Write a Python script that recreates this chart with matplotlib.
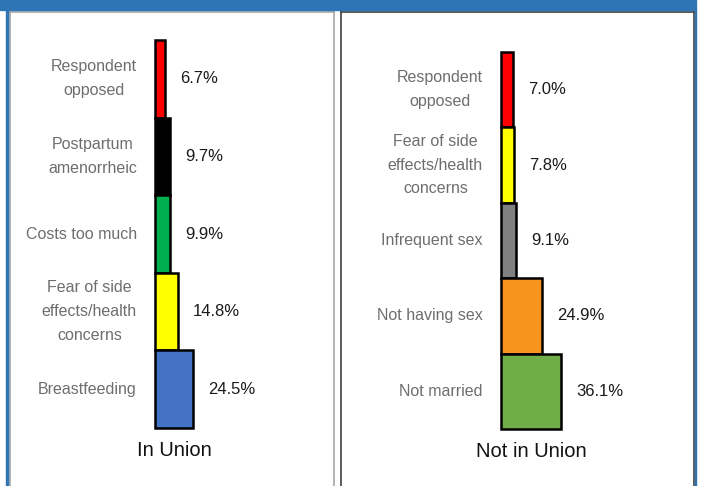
import matplotlib
matplotlib.use("Agg")
import matplotlib.pyplot as plt
from matplotlib.patches import Rectangle

plt.rcParams['font.family'] = ['Liberation Sans', 'DejaVu Sans']

# data, top segment first
union_labels = ["Respondent\nopposed", "Postpartum\namenorrheic", "Costs too much",
                "Fear of side\neffects/health\nconcerns", "Breastfeeding"]
union_vals = [6.7, 9.7, 9.9, 14.8, 24.5]
union_cols = ["#FF0000", "#000000", "#00B050", "#FFFF00", "#4472C4"]

notunion_labels = ["Respondent\nopposed", "Fear of side\neffects/health\nconcerns",
                   "Infrequent sex", "Not having sex", "Not married"]
notunion_vals = [7.0, 7.8, 9.1, 24.9, 36.1]
notunion_cols = ["#FF0000", "#FFFF00", "#808080", "#F7941D", "#70AD47"]

W, H = 701, 486
fig = plt.figure(figsize=(W / 100, H / 100), dpi=100)


def px_axes(x0, x1, y0, y1):
    # axes box given in pixels from top-left
    return fig.add_axes([x0 / W, 1 - y1 / H, (x1 - x0) / W, (y1 - y0) / H])


def panel(ax, labels, vals, cols, title, xlim, ylim, edge):
    y = list(range(len(vals)))
    ax.barh(y, vals, height=1.0, color=cols, edgecolor="black", linewidth=1.8)
    ax.set_xlim(*xlim)
    ax.set_ylim(*ylim)
    for i, (lab, v) in enumerate(zip(labels, vals)):
        ax.annotate(lab, (0, i), xytext=(-13, 0), textcoords="offset points",
                    ha="right", va="center", multialignment="center",
                    fontsize=11.5, color="#6E6E6E", linespacing=1.72)
        ax.annotate(f"{v:.1f}%", (v, i), xytext=(11, 0), textcoords="offset points",
                    ha="left", va="center", fontsize=12, color="#1A1A1A")
    ax.annotate(title, (max(vals) / 2, len(vals) - 0.5), xytext=(0, -16),
                textcoords="offset points", ha="center", va="center",
                fontsize=14.5, color="#111111")
    ax.set_xticks([])
    ax.set_yticks([])
    for s in ["top", "left", "right"]:
        ax.spines[s].set_color(edge)
        ax.spines[s].set_linewidth(1.2)
    ax.spines["bottom"].set_visible(False)


ax1 = px_axes(10, 334, 12, 516)
panel(ax1, union_labels, union_vals, union_cols, "In Union",
      (-93.5, 115.5), (5.634, -0.861), "#A6A6A6")

ax2 = px_axes(341, 694, 12, 516)
panel(ax2, notunion_labels, notunion_vals, notunion_cols, "Not in Union",
      (-96.4, 116.3), (5.654, -1.03), "#404040")

# blue frame of the slide
blue = "#2E75B6"
fig.patches.append(Rectangle((0, 1 - 10 / H), 695 / W, 10 / H, transform=fig.transFigure,
                             color=blue, zorder=0))
fig.patches.append(Rectangle((5.5 / W, 0), 2 / W, 1, transform=fig.transFigure,
                             color=blue, zorder=0))
fig.patches.append(Rectangle((694.5 / W, 0), 1.5 / W, 1, transform=fig.transFigure,
                             color=blue, zorder=0))

fig.savefig("out.png", dpi=100)
